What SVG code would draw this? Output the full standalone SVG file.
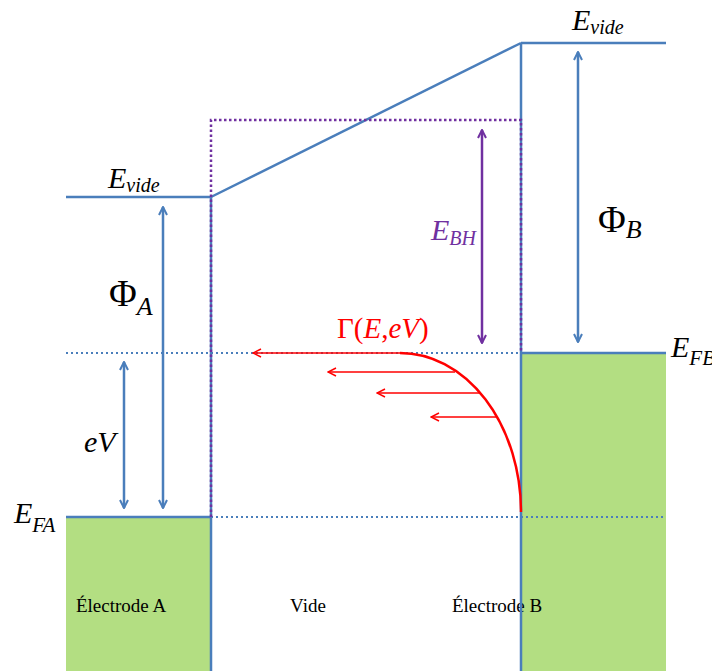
<svg xmlns="http://www.w3.org/2000/svg" width="712" height="671" viewBox="0 0 712 671">
<style>
.lvl{stroke:#4a7ebb;stroke-width:2.5;fill:none}
.dot{stroke:#4a7ebb;stroke-width:2;stroke-dasharray:2 3;fill:none}
.pdot{stroke:#7030a0;stroke-width:2.5;stroke-dasharray:2.5 2.5;fill:none}
.green{fill:#b3de82}
.ba{stroke:#4a7ebb;stroke-width:2.5;fill:none;marker-start:url(#hb);marker-end:url(#hb)}
.pa{stroke:#7030a0;stroke-width:2.5;fill:none;marker-start:url(#hp);marker-end:url(#hp)}
.ra{stroke:#ff0000;stroke-width:1.5;fill:none;marker-end:url(#hr)}
</style>
<defs>
<marker id="hb" viewBox="0 0 10 10" refX="9" refY="5" markerWidth="10" markerHeight="10" markerUnits="userSpaceOnUse" orient="auto-start-reverse"><path d="M1,1 L9,5 L1,9" fill="none" stroke="#4a7ebb" stroke-width="2"/></marker>
<marker id="hp" viewBox="0 0 10 10" refX="9" refY="5" markerWidth="10" markerHeight="10" markerUnits="userSpaceOnUse" orient="auto-start-reverse"><path d="M1,1 L9,5 L1,9" fill="none" stroke="#7030a0" stroke-width="2"/></marker>
<marker id="hr" viewBox="0 0 10 10" refX="9" refY="5" markerWidth="10" markerHeight="10" markerUnits="userSpaceOnUse" orient="auto"><path d="M1,1 L9,5 L1,9" fill="none" stroke="#ff0000" stroke-width="1.5"/></marker>
</defs>
<rect width="712" height="671" fill="#ffffff"/>

<g id="electrodeA">
<rect class="green" x="66" y="517" width="145" height="154"/>
<line class="lvl" x1="66" y1="517" x2="211" y2="517"/>
<line class="lvl" x1="66" y1="197" x2="211" y2="197"/>
<text x="121" y="612" font-family="Liberation Serif, serif" font-size="19" text-anchor="middle" fill="#000">Électrode A</text>
</g>

<g id="electrodeB">
<rect class="green" x="521" y="353" width="145" height="318"/>
<line class="lvl" x1="521" y1="353" x2="666" y2="353"/>
<line class="lvl" x1="521" y1="43" x2="666" y2="43"/>
<text x="497" y="612" font-family="Liberation Serif, serif" font-size="19" text-anchor="middle" fill="#000">Électrode B</text>
</g>

<g id="vide">
<line class="lvl" x1="211" y1="197" x2="521" y2="43"/>
<line class="lvl" x1="211" y1="197" x2="211" y2="671"/>
<line class="lvl" x1="521" y1="43" x2="521" y2="671"/>
<line class="dot" x1="66" y1="353" x2="521" y2="353"/>
<line class="dot" x1="211" y1="517" x2="666" y2="517"/>
<path class="pdot" d="M211,517 L211,120 L521,120 L521,353"/>
<text x="308" y="612" font-family="Liberation Serif, serif" font-size="19" text-anchor="middle" fill="#000">Vide</text>
</g>

<g id="connectors">
<line class="ba" x1="163" y1="207" x2="163" y2="508"/>
<line class="ba" x1="124" y1="362" x2="124" y2="508"/>
<line class="pa" x1="482" y1="130" x2="482" y2="343"/>
<line class="ba" x1="578" y1="52" x2="578" y2="342"/>
<path d="M400,353 A121,159 0 0 1 521,512" stroke="#ff0000" stroke-width="2.5" fill="none"/>
<line class="ra" x1="400" y1="353" x2="253" y2="353"/>
<line class="ra" x1="455" y1="372" x2="328" y2="372"/>
<line class="ra" x1="480" y1="393" x2="377" y2="393"/>
<line class="ra" x1="497" y1="417" x2="431" y2="417"/>
</g>

<g id="labels" font-family="Liberation Serif, serif" fill="#000">
<text x="108" y="188" font-size="30" font-style="italic">E<tspan font-size="20" dy="4">vide</tspan></text>
<text x="572" y="30" font-size="30" font-style="italic">E<tspan font-size="20" dy="4">vide</tspan></text>
<text x="109" y="306" font-size="38">Φ<tspan font-style="italic" font-size="26" dy="9">A</tspan></text>
<text x="598" y="232" font-size="38">Φ<tspan font-style="italic" font-size="26" dy="6">B</tspan></text>
<text x="431" y="240" font-size="30" font-style="italic" fill="#7030a0">E<tspan font-size="20" dy="5">BH</tspan></text>
<text x="337" y="338" font-size="29" fill="#ff0000">Γ(<tspan font-style="italic">E</tspan>,<tspan font-style="italic">eV</tspan>)</text>
<text x="84" y="452" font-size="30" font-style="italic">eV</text>
<text x="14" y="523" font-size="30" font-style="italic">E<tspan font-size="21" dy="9">FA</tspan></text>
<text x="671" y="357" font-size="30" font-style="italic">E<tspan font-size="21" dy="8">FB</tspan></text>
</g>
</svg>
